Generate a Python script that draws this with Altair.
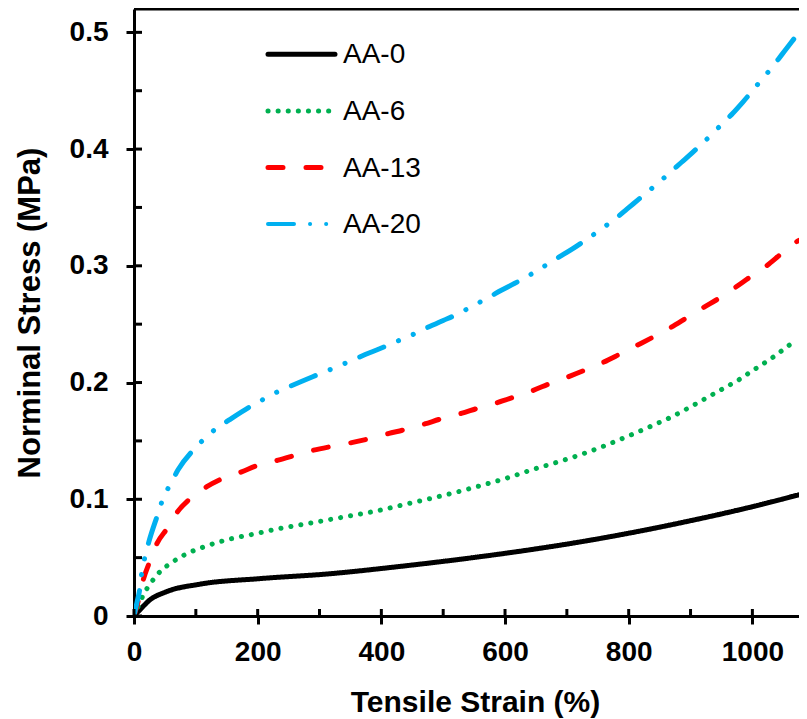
import altair as alt
import pandas as pd

SERIES = ["AA-0", "AA-6", "AA-13", "AA-20"]
COLORS = ["#000000", "#00B050", "#FF0000", "#00B0F0"]

STRAIN_AA0 = [0, 9, 25, 52, 106, 203, 317, 424, 532, 640, 705, 802, 899, 996, 1084]
STRESS_AA0 = [0, 0.005, 0.0135, 0.0207, 0.0272, 0.032, 0.0362, 0.0421, 0.0489, 0.0567,
              0.062, 0.0711, 0.0815, 0.0931, 0.105]

STRAIN_AA6 = [0, 5, 15, 24, 34, 44, 58, 84, 112, 152, 192, 236, 279, 317, 350, 392, 435,
              478, 521, 564, 605, 645, 689, 729, 758, 785, 812, 842, 869, 896, 923, 950,
              977, 1001, 1028, 1054, 1067]
STRESS_AA6 = [0, 0.006, 0.018, 0.026, 0.033, 0.039, 0.0447, 0.053, 0.059, 0.0655, 0.070,
              0.075, 0.079, 0.0827, 0.0858, 0.090, 0.0952, 0.1005, 0.106, 0.1122, 0.1185,
              0.1255, 0.1325, 0.1395, 0.1452, 0.151, 0.157, 0.164, 0.1705, 0.178, 0.186,
              0.194, 0.202, 0.2105, 0.2197, 0.2298, 0.235]

STRAIN_AA13 = [0, 8, 15, 25, 37, 55, 70, 91, 117, 144, 174, 200, 233, 263, 290, 322, 352,
               381, 411, 440, 470, 497, 529, 556, 586, 616, 645, 672, 705, 729, 758, 785,
               812, 839, 866, 893, 920, 947, 971, 998, 1023, 1047, 1071, 1084]
STRESS_AA13 = [0, 0.015, 0.031, 0.046, 0.062, 0.076, 0.089, 0.1007, 0.1106, 0.118, 0.1235,
               0.129, 0.1335, 0.138, 0.142, 0.1455, 0.1485, 0.152, 0.1562, 0.160, 0.1645,
               0.169, 0.1735, 0.178, 0.1825, 0.1878, 0.1932, 0.199, 0.2055, 0.2106, 0.2171,
               0.2242, 0.2315, 0.2388, 0.2465, 0.2552, 0.264, 0.2725, 0.281, 0.291, 0.300,
               0.3105, 0.3205, 0.3234]

STRAIN_AA20 = [0, 5, 9, 12, 17, 24, 39, 47, 59, 71, 101, 116, 134, 154, 190, 207, 228, 249,
               289, 325, 346, 381, 403, 423, 443, 478, 500, 520, 537, 575, 594, 615, 635,
               669, 689, 709, 726, 761, 780, 797, 815, 850, 866, 885, 903, 936, 950, 968,
               985, 1015, 1031, 1047, 1063, 1084]
STRESS_AA20 = [0, 0.012, 0.022, 0.035, 0.049, 0.0635, 0.088, 0.1007, 0.113, 0.125, 0.145,
               0.153, 0.161, 0.168, 0.180, 0.185, 0.191, 0.196, 0.205, 0.2128, 0.2175,
               0.2255, 0.2302, 0.2348, 0.2392, 0.248, 0.2532, 0.2578, 0.2625, 0.2734, 0.279,
               0.2848, 0.2906, 0.3015, 0.308, 0.3145, 0.3205, 0.3335, 0.341, 0.3485, 0.3565,
               0.372, 0.3795, 0.3885, 0.397, 0.4135, 0.421, 0.4305, 0.4405, 0.4595, 0.4695,
               0.4805, 0.4915, 0.506]

X_TICKS = [0, 200, 400, 600, 800, 1000]
X_MINOR = [0, 100, 200, 300, 400, 500, 600, 700, 800, 900, 1000]
Y_TICKS = [0, 0.1, 0.2, 0.3, 0.4, 0.5]
Y_MINOR = [0, 0.05, 0.1, 0.15, 0.2, 0.25, 0.3, 0.35, 0.4, 0.45, 0.5]

DASHES = [[1, 0], [0.1, 10], [15, 23], [26, 16, 0.1, 16, 0.1, 16]]
WIDTHS = [5, 5, 5, 4]

FONT = "Liberation Sans"
W, H = 665, 607
X_MAX, Y_MAX = 1075.4, 0.52

frames = []
for name, xs, ys in [("AA-0", STRAIN_AA0, STRESS_AA0), ("AA-6", STRAIN_AA6, STRESS_AA6),
                     ("AA-13", STRAIN_AA13, STRESS_AA13), ("AA-20", STRAIN_AA20, STRESS_AA20)]:
    frames.append(pd.DataFrame({"series": name, "strain": xs, "stress": ys,
                                "order": range(len(xs))}))
df = pd.concat(frames, ignore_index=True)

xscale = alt.Scale(domain=[0, X_MAX], nice=False, zero=False)
yscale = alt.Scale(domain=[0, Y_MAX], nice=False, zero=False)

X_AXIS = alt.Axis(
    values=X_TICKS, title="Tensile Strain (%)", grid=False, format="d",
    tickSize=8, tickWidth=3, tickColor="black", domainWidth=3, domainColor="black",
    labelFont=FONT, labelFontSize=28, labelFontWeight="bold", labelColor="black",
    labelPadding=14, labelFlush=False,
    titleFont=FONT, titleFontSize=30, titleFontWeight="bold", titleColor="black",
    titleX=341, titleY=71, titleBaseline="top")
Y_AXIS = alt.Axis(
    values=Y_TICKS, title="Norminal Stress (MPa)", grid=False,
    tickSize=8, tickWidth=3, tickColor="black", domainWidth=3, domainColor="black",
    labelFont=FONT, labelFontSize=28, labelFontWeight="bold", labelColor="black",
    labelPadding=18, labelFlush=False,
    labelExpr="datum.value == 0 ? '0' : format(datum.value, '.1f')",
    titleFont=FONT, titleFontSize=31, titleFontWeight="bold", titleColor="black",
    titleAngle=270, titleBaseline="alphabetic", titleAlign="center",
    titleX=-95, titleY=H / 2)

lines = alt.Chart(df).mark_line(strokeCap="round", strokeJoin="round",
                                interpolate="monotone", clip=True).encode(
    x=alt.X("strain:Q", scale=xscale, axis=X_AXIS, title="Tensile Strain (%)"),
    y=alt.Y("stress:Q", scale=yscale, axis=Y_AXIS, title="Norminal Stress (MPa)"),
    color=alt.Color("series:N", scale=alt.Scale(domain=SERIES, range=COLORS), legend=None),
    strokeDash=alt.StrokeDash("series:N", scale=alt.Scale(domain=SERIES, range=DASHES),
                              legend=None),
    strokeWidth=alt.StrokeWidth("series:N", scale=alt.Scale(domain=SERIES, range=WIDTHS),
                                legend=None),
    order="order:Q",
)

xminor = alt.Chart(pd.DataFrame({"t": X_MINOR})).mark_rule(
    color="black", strokeWidth=3).encode(
    x=alt.X("t:Q", scale=xscale, axis=X_AXIS, title="Tensile Strain (%)"),
    y=alt.value(H), y2=alt.value(H - 7))

yminor = alt.Chart(pd.DataFrame({"t": Y_MINOR})).mark_rule(
    color="black", strokeWidth=3).encode(
    y=alt.Y("t:Q", scale=yscale, axis=Y_AXIS, title="Norminal Stress (MPa)"),
    x=alt.value(0), x2=alt.value(8))

top = alt.Chart(pd.DataFrame({"a": [0]})).mark_rule(color="black", strokeWidth=3).encode(
    x=alt.value(0), x2=alt.value(W + 5), y=alt.value(0))

legend_layers = []
LEG_Y0, LEG_STEP = 45.3, 56.6
for i, name in enumerate(SERIES):
    ly = LEG_Y0 + i * LEG_STEP
    d = pd.DataFrame({"series": [name]})
    legend_layers.append(
        alt.Chart(d).mark_rule(color=COLORS[i], strokeWidth=WIDTHS[i], strokeCap="round",
                               strokeDash=DASHES[i]).encode(
            x=alt.value(134), x2=alt.value(201), y=alt.value(ly)))
    legend_layers.append(
        alt.Chart(d).mark_text(font=FONT, fontSize=28, color="black", align="left",
                               baseline="middle").encode(
            x=alt.value(209), y=alt.value(ly + 1), text="series:N"))

chart = alt.layer(lines, xminor, yminor, top, *legend_layers).properties(
    width=W, height=H,
    autosize=alt.AutoSizeParams(type="none"),
    padding={"left": 126, "top": 1, "right": 0, "bottom": 102},
).configure_view(stroke=None).configure(background="white")

chart.save("out.html", embed_options={"renderer": "svg", "actions": False})
